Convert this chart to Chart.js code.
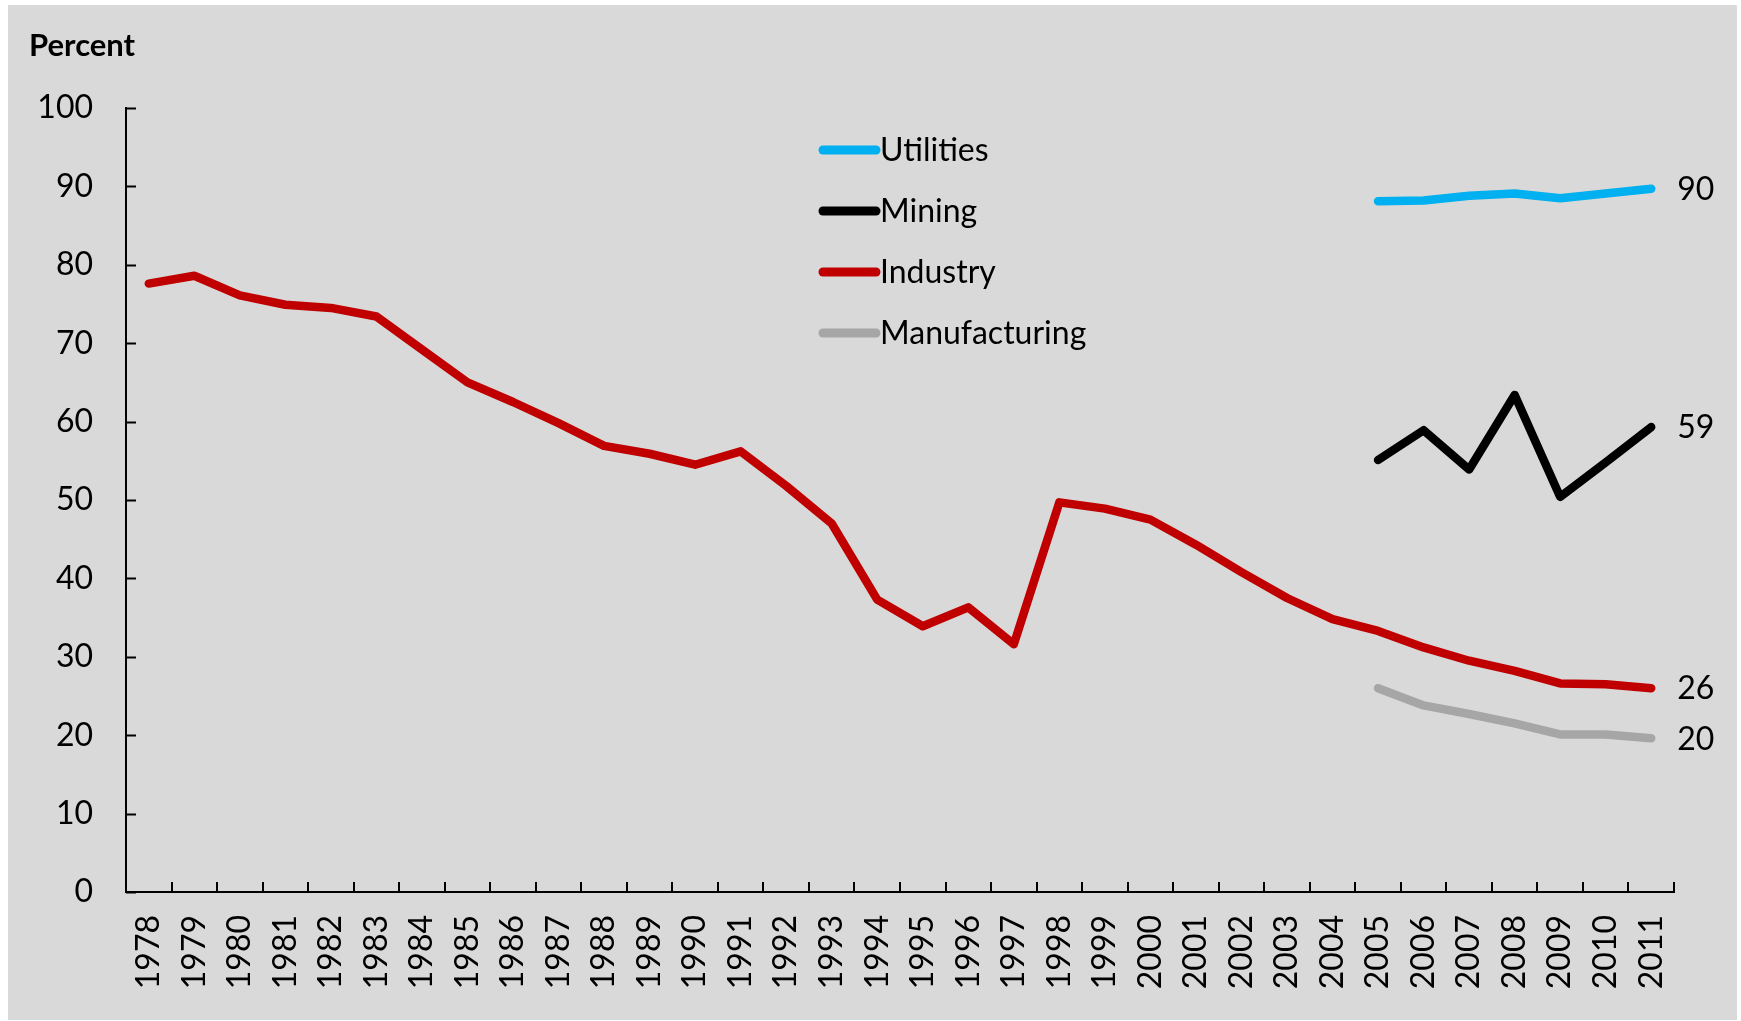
<!DOCTYPE html>
<html>
<head>
<meta charset="utf-8">
<script src="https://cdn.jsdelivr.net/npm/chart.js@4.4.1/dist/chart.umd.min.js"></script>
<style>
  html, body { margin: 0; padding: 0; background: #fff; }
  .panel { position: absolute; left: 8px; top: 5px; width: 1729px; height: 1015px; background: #d9d9d9; }
  canvas { display: block; }
</style>
</head>
<body>
<div class="panel"><canvas id="chart" width="1729" height="1015"></canvas></div>
<script>
const years = ['1978', '1979', '1980', '1981', '1982', '1983', '1984', '1985', '1986', '1987',
    '1988', '1989', '1990', '1991', '1992', '1993', '1994', '1995', '1996', '1997',
    '1998', '1999', '2000', '2001', '2002', '2003', '2004', '2005', '2006', '2007',
    '2008', '2009', '2010', '2011'];

// sector shares, percent
const utilities = [null, null, null, null, null, null, null, null, null, null,
    null, null, null, null, null, null, null, null, null, null,
    null, null, null, null, null, null, null, 88.1, 88.2, 88.8,
    89.1, 88.5, 89.1, 89.7];
const mining = [null, null, null, null, null, null, null, null, null, null,
    null, null, null, null, null, null, null, null, null, null,
    null, null, null, null, null, null, null, 55.1, 58.9, 53.9,
    63.4, 50.4, 54.8, 59.3];
const industry = [77.6, 78.6, 76.1, 74.9, 74.5, 73.4, 69.2, 65.0, 62.5, 59.8,
    56.9, 55.9, 54.5, 56.2, 51.8, 47.0, 37.3, 33.9, 36.3, 31.6,
    49.7, 48.9, 47.5, 44.3, 40.8, 37.5, 34.8, 33.3, 31.2, 29.5,
    28.2, 26.6, 26.5, 26.0];
const manufacturing = [null, null, null, null, null, null, null, null, null, null,
    null, null, null, null, null, null, null, null, null, null,
    null, null, null, null, null, null, null, 26.0, 23.8, 22.7,
    21.5, 20.1, 20.1, 19.6];

const yTicks = [0, 10, 20, 30, 40, 50, 60, 70, 80, 90, 100];

const FONT = 'Lato, "Open Sans", sans-serif';
const FONT_SIZE = 32;

// tick marks point into the plot, so they are drawn here instead of by the grid
const innerTicks = {
    id: 'innerTicks',
    afterDraw(chart) {
        const ctx = chart.ctx;
        const area = chart.chartArea;
        const x = chart.scales.x;
        const y = chart.scales.y;
        ctx.save();
        ctx.strokeStyle = '#000';
        ctx.lineWidth = 2;
        ctx.beginPath();
        yTicks.forEach(v => {
            const py = Math.round(y.getPixelForValue(v)) + 0.5;
            ctx.moveTo(area.left, py);
            ctx.lineTo(area.left + 10, py);
        });
        const n = years.length;
        for (let i = 1; i <= n; i++) {
            const px = Math.round(x.left + i * x.width / n);
            ctx.moveTo(px, area.bottom);
            ctx.lineTo(px, area.bottom - 10);
        }
        ctx.stroke();

        // axis title
        ctx.fillStyle = '#000';
        ctx.font = 'bold 31px ' + FONT;
        ctx.textAlign = 'left';
        ctx.textBaseline = 'alphabetic';
        ctx.fillText('Percent', 21, 51);
        ctx.restore();
    }
};

// legend in the middle of the plot
const sideLegend = {
    id: 'sideLegend',
    afterDraw(chart) {
        const ctx = chart.ctx;
        ctx.save();
        ctx.font = FONT_SIZE + 'px ' + FONT;
        ctx.textAlign = 'left';
        ctx.textBaseline = 'alphabetic';
        ctx.lineCap = 'round';
        chart.data.datasets.forEach((ds, i) => {
            const ly = 145 + i * 61;
            ctx.strokeStyle = ds.borderColor;
            ctx.lineWidth = 9;
            ctx.beginPath();
            ctx.moveTo(815, ly);
            ctx.lineTo(868, ly);
            ctx.stroke();
            ctx.fillStyle = '#000';
            ctx.fillText(ds.label, 872, ly + 11);
        });
        ctx.restore();
    }
};

// value of the last year at the end of each line
const endLabels = {
    id: 'endLabels',
    afterDatasetsDraw(chart) {
        const ctx = chart.ctx;
        ctx.save();
        ctx.font = FONT_SIZE + 'px ' + FONT;
        ctx.fillStyle = '#000';
        ctx.textAlign = 'left';
        ctx.textBaseline = 'middle';
        chart.data.datasets.forEach((ds, i) => {
            const meta = chart.getDatasetMeta(i);
            const last = ds.data.length - 1;
            const pt = meta.data[last];
            ctx.fillText(String(Math.round(ds.data[last])), pt.x + 26, pt.y + 1);
        });
        ctx.restore();
    }
};

function lineSet(label, data, color) {
    return {
        label: label,
        data: data,
        borderColor: color,
        backgroundColor: color,
        borderWidth: 8.5,
        pointRadius: 0,
        tension: 0,
        borderCapStyle: 'round',
        borderJoinStyle: 'round',
        fill: false
    };
}

function draw() {
    new Chart(document.getElementById('chart'), {
        type: 'line',
        data: {
            labels: years,
            datasets: [
                lineSet('Utilities', utilities, '#00b0f0'),
                lineSet('Mining', mining, '#000000'),
                lineSet('Industry', industry, '#c00000'),
                lineSet('Manufacturing', manufacturing, '#a6a6a6')
            ]
        },
        options: {
            responsive: false,
            animation: false,
            devicePixelRatio: 1,
            layout: {
                padding: { left: 8, top: 103, right: 63, bottom: 0 }
            },
            plugins: {
                legend: { display: false },
                tooltip: { enabled: false }
            },
            scales: {
                x: {
                    type: 'category',
                    offset: true,
                    grid: { display: false, drawTicks: false },
                    border: { display: true, color: '#000', width: 2 },
                    ticks: {
                        color: '#000',
                        font: { family: FONT, size: FONT_SIZE },
                        minRotation: 90,
                        maxRotation: 90,
                        autoSkip: false,
                        padding: 23
                    },
                    afterFit(scale) { scale.height = 128; }
                },
                y: {
                    min: 0,
                    max: 100,
                    grid: { display: false, drawTicks: false },
                    border: { display: true, color: '#000', width: 2 },
                    ticks: {
                        stepSize: 10,
                        color: '#000',
                        font: { family: FONT, size: FONT_SIZE },
                        padding: 33
                    },
                    afterFit(scale) { scale.width = 110; }
                }
            }
        },
        plugins: [innerTicks, sideLegend, endLabels]
    });
}

document.fonts.load(FONT_SIZE + 'px Lato').then(draw, draw);
</script>
</body>
</html>
